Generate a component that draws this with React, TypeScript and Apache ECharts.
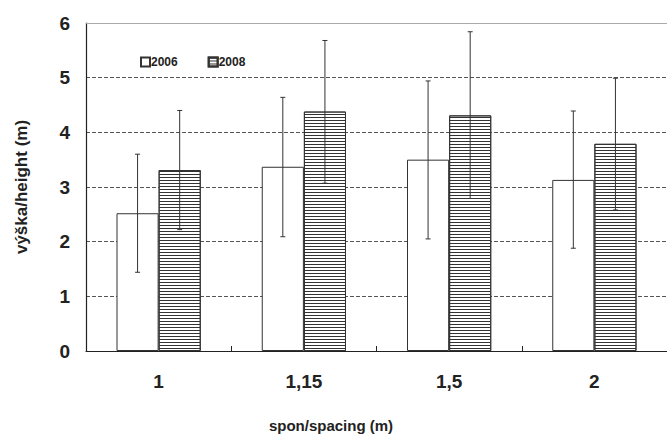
import React, { useEffect, useRef } from "react";
import * as echarts from "echarts";

const categories = ["1", "1,15", "1,5", "2"];
const values2006 = [2.52, 3.37, 3.5, 3.13];
const values2008 = [3.31, 4.38, 4.31, 3.79];
const low2006 = [1.44, 2.09, 2.05, 1.88];
const high2006 = [3.6, 4.64, 4.94, 4.39];
const low2008 = [2.22, 3.07, 2.79, 2.58];
const high2008 = [4.4, 5.68, 5.84, 4.99];
const yTicks = [0, 1, 2, 3, 4, 5, 6];

const BAR_FRAC = 0.29;
const FONT = "Liberation Sans, Arial, sans-serif";

function errorSeries(name: string, lows: number[], highs: number[], side: number, color: string) {
  return {
    type: "custom",
    name,
    silent: true,
    z: 10,
    data: lows.map((l, i) => [i, l, highs[i]]),
    renderItem: (params: any, api: any) => {
      const idx = api.value(0);
      const lo = api.coord([idx, api.value(1)]);
      const hi = api.coord([idx, api.value(2)]);
      const band = api.size([1, 0])[0];
      const x = lo[0] + (side * band * BAR_FRAC) / 2;
      const cap = 2.5;
      const st = { stroke: color, lineWidth: 1 };
      return {
        type: "group",
        children: [
          { type: "line", shape: { x1: x, y1: hi[1], x2: x, y2: lo[1] }, style: st },
          { type: "line", shape: { x1: x - cap, y1: hi[1], x2: x + cap, y2: hi[1] }, style: st },
          { type: "line", shape: { x1: x - cap, y1: lo[1], x2: x + cap, y2: lo[1] }, style: st },
        ],
      };
    },
  };
}

export default function App() {
  const ref = useRef<HTMLDivElement>(null);
  useEffect(() => {
    if (!ref.current) return;
    const chart = echarts.init(ref.current, null, { renderer: "svg" });
    chart.setOption({
      animation: false,
      backgroundColor: "#fff",
      textStyle: { fontFamily: FONT },
      grid: { left: 86, right: 0, top: 23, bottom: 88, containLabel: false },
      legend: {
        left: 135,
        top: 51,
        itemWidth: 9,
        itemHeight: 9,
        itemGap: 30,
        icon: "rect",
        data: ["2006", "2008"],
        textStyle: { fontFamily: FONT, fontWeight: "bold", fontSize: 12, color: "#222", padding: [0, 0, 0, -4] },
      },
      xAxis: [
        {
          type: "category",
          data: categories,
          axisLine: { show: true, lineStyle: { color: "#222", width: 1.2 } },
          axisTick: { show: true, inside: true, length: 5, lineStyle: { color: "#222" } },
          axisLabel: { fontFamily: FONT, fontWeight: "bold", fontSize: 19, color: "#222", margin: 21 },
        },
        {
          type: "category",
          data: categories,
          position: "top",
          axisLine: { show: true, lineStyle: { color: "#aaa", width: 1 } },
          axisTick: { show: false },
          axisLabel: { show: false },
        },
      ],
      yAxis: {
        type: "value",
        min: yTicks[0],
        max: yTicks[yTicks.length - 1],
        interval: 1,
        axisLine: { show: true, lineStyle: { color: "#222", width: 1.2 } },
        axisTick: { show: false },
        axisLabel: { fontFamily: FONT, fontWeight: "bold", fontSize: 19, color: "#222", margin: 16 },
        splitLine: { show: true, lineStyle: { color: "#555", type: [4, 2], width: 1 } },
      },
      graphic: [
        {
          type: "text",
          x: 21,
          y: 187,
          rotation: Math.PI / 2,
          style: {
            text: "výška/height (m)",
            font: `bold 17px ${FONT}`,
            fill: "#222",
            textAlign: "center",
            textVerticalAlign: "middle",
          },
        },
        {
          type: "text",
          x: 331,
          y: 425,
          style: {
            text: "spon/spacing (m)",
            font: `bold 15px ${FONT}`,
            fill: "#222",
            textAlign: "center",
            textVerticalAlign: "middle",
          },
        },
      ],
      series: [
        {
          name: "2006",
          type: "bar",
          data: values2006,
          barWidth: `${BAR_FRAC * 100}%`,
          barGap: "0%",
          itemStyle: { color: "#fff", borderColor: "#333", borderWidth: 1 },
        },
        {
          name: "2008",
          type: "bar",
          data: values2008,
          barWidth: `${BAR_FRAC * 100}%`,
          barGap: "0%",
          itemStyle: {
            color: "#fff",
            borderColor: "#333",
            borderWidth: 1,
            decal: {
              symbol: "rect",
              symbolSize: 1,
              dashArrayX: [[10, 0]],
              dashArrayY: [1, 2],
              rotation: 0,
              color: "#333",
            },
          },
        },
        errorSeries("err2006", low2006, high2006, -1, "#333"),
        errorSeries("err2008", low2008, high2008, 1, "#333"),
      ],
    });
    return () => chart.dispose();
  }, []);
  return <div ref={ref} style={{ width: 667, height: 439, position: "absolute", left: 0, top: 0 }} />;
}
